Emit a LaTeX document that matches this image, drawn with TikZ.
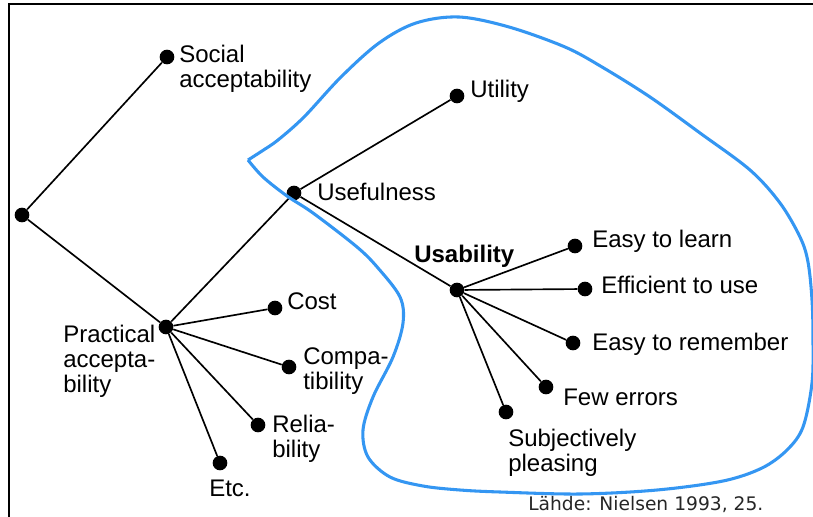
\documentclass[tikz,border=0pt]{standalone}
\usepackage{fontspec}
\setmainfont{Liberation Sans}
\newfontfamily\citefont{DejaVu Sans}
\definecolor{hullblue}{RGB}{52,150,242}
\begin{document}
\begin{tikzpicture}[x=0.75pt,y=-0.75pt,
  dot/.style={circle,fill=black,inner sep=0pt,minimum size=11pt},
  lbl/.style={anchor=north west,inner sep=0pt,align=left,font=\fontsize{18}{18.75}\selectfont},
  edge/.style={line width=1.25pt,black},
  hull/.style={line width=2.3pt,hullblue,line join=round}]
\useasboundingbox (0,0) rectangle (813,517);
% frame
\draw[line width=1pt] (9,517) -- (9,4) -- (813,4);
% dots
\node[dot] (root) at (22,215) {};
\node[dot] (soc) at (167,57) {};
\node[dot] (prac) at (166,327) {};
\node[dot] (usef) at (294,193) {};
\node[dot] (util) at (457,96) {};
\node[dot] (usab) at (457,290) {};
\node[dot] (cost) at (275,308) {};
\node[dot] (comp) at (289,367) {};
\node[dot] (rel) at (258,425) {};
\node[dot] (etc) at (220,463) {};
\node[dot] (learn) at (575,246) {};
\node[dot] (eff) at (585,289) {};
\node[dot] (rem) at (573,343) {};
\node[dot] (few) at (546,387) {};
\node[dot] (subj) at (506,412) {};
% connectors
\draw[edge] (root) -- (soc);
\draw[edge] (root) -- (prac);
\draw[edge] (prac) -- (usef);
\draw[edge] (prac) -- (cost);
\draw[edge] (prac) -- (comp);
\draw[edge] (prac) -- (rel);
\draw[edge] (prac) -- (etc);
\draw[edge] (usef) -- (util);
\draw[edge] (usef) -- (usab);
\draw[edge] (usab) -- (learn);
\draw[edge] (usab) -- (eff);
\draw[edge] (usab) -- (rem);
\draw[edge] (usab) -- (few);
\draw[edge] (usab) -- (subj);
% labels
\node[lbl] (tsoc) at (179,45) {Social\\acceptability};
\node[lbl] (tutil) at (470,80) {Utility};
\node[lbl] (tusef) at (317,183) {Usefulness};
\node[lbl,font=\fontsize{18}{18.75}\selectfont\bfseries] (tusab) at (414,245) {Usability};
\node[lbl] (tlearn) at (592,230) {Easy to learn};
\node[lbl] (teff) at (601,276) {Efficient to use};
\node[lbl] (trem) at (592,333) {Easy to remember};
\node[lbl] (tfew) at (563,389) {Few errors};
\node[lbl] (tsubj) at (508,429) {Subjectively\\pleasing};
\node[lbl] (tcost) at (287,292) {Cost};
\node[lbl] (tcomp) at (303,347) {Compa-\\tibility};
\node[lbl] (trel) at (272,415) {Relia-\\bility};
\node[lbl] (tetc) at (209,480) {Etc.};
\node[lbl] (tprac) at (63,325) {Practical\\accepta-\\bility};
\node[anchor=north west,inner sep=0pt,font=\citefont\fontsize{14}{16}\selectfont,text=black!85] (cite) at (528,496) {Lähde: Nielsen 1993, 25.};
% blue hull
\draw[hull] plot[smooth,tension=0.55] coordinates {
  (248,160) (262,151) (278,140) (304,117) (341,77) (379,43) (416,23) (459,17)
  (509,27) (565,47) (602,67) (650,97) (700,133) (750,170) (780,203) (800,237)
  (808,262) (812,300) (813,340) (812,383) (803,427) (787,450) (762,468)
  (723,481) (657,490) (580,494) (500,492) (460,490) (423,486) (390,477)
  (368,457) (363,430) (373,397) (393,357) (403,323) (400,297) (378,268)
  (357,247) (313,213) (287,196) (263,177) (248,160)};
\end{tikzpicture}
\end{document}
